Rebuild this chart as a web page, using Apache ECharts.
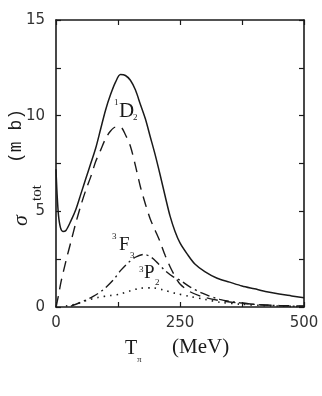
<!DOCTYPE html>
<html><head><meta charset="utf-8">
<script src="https://cdn.jsdelivr.net/npm/echarts@6/dist/echarts.min.js"></script>
<style>html,body{margin:0;padding:0;background:#fff}#c{width:322px;height:396px}</style>
</head><body><div id="c"></div>
<script>
// Total cross section (solid)
const totT = [0, 2, 5, 9, 14, 20, 30, 40, 50, 60, 70, 80, 90, 100, 110, 120, 130, 140, 150, 160, 170, 180, 190, 200, 210, 220, 230, 240, 250, 265, 280, 300, 325, 350, 375, 400, 425, 450, 475, 500];
const totV = [7.2, 6.0, 4.8, 4.15, 3.95, 4.0, 4.5, 5.1, 5.9, 6.7, 7.5, 8.3, 9.3, 10.3, 11.1, 11.75, 12.15, 12.1, 11.85, 11.35, 10.6, 9.85, 8.9, 7.95, 6.9, 5.8, 4.75, 3.95, 3.35, 2.75, 2.25, 1.85, 1.5, 1.3, 1.1, 0.95, 0.8, 0.68, 0.58, 0.48];
// 1D2 partial wave (dashed)
const d2T = [0, 5, 10, 20, 30, 40, 50, 60, 70, 80, 90, 100, 110, 120, 130, 140, 150, 160, 170, 180, 190, 200, 210, 220, 230, 240, 250, 270, 300, 340, 400, 450, 500];
const d2V = [0, 0.6, 1.3, 2.4, 3.4, 4.4, 5.3, 6.1, 6.8, 7.6, 8.2, 8.8, 9.2, 9.4, 9.4, 9.0, 8.4, 7.4, 6.3, 5.4, 4.6, 4.0, 3.4, 2.7, 2.1, 1.6, 1.2, 0.8, 0.5, 0.3, 0.14, 0.08, 0.05];
// 3F3 partial wave (dash-dot)
const f3T = [30, 55, 75, 95, 115, 130, 145, 160, 178, 192, 205, 220, 235, 250, 270, 295, 330, 370, 420, 500];
const f3V = [0.05, 0.3, 0.55, 0.9, 1.4, 1.9, 2.3, 2.6, 2.75, 2.6, 2.3, 1.9, 1.6, 1.4, 1.05, 0.72, 0.4, 0.22, 0.1, 0.03];
// 3P2 partial wave (dotted)
const p2T = [20, 40, 62, 85, 110, 130, 150, 170, 195, 215, 240, 270, 300, 330, 370, 420, 500];
const p2V = [0.05, 0.15, 0.35, 0.5, 0.6, 0.68, 0.85, 0.98, 1.0, 0.9, 0.72, 0.55, 0.4, 0.25, 0.15, 0.07, 0.02];

const xTickLabels = [0, 250, 500];
const yTickLabels = [0, 5, 10, 15];

const zip = (a, b) => a.map((t, i) => [t, b[i]]);
const ink = '#1a1a1a';
const tickFont = {fontFamily: 'DejaVu Sans', fontSize: 15, color: '#333'};
const serif = 'Liberation Serif';

const chart = echarts.init(document.getElementById('c'), null, {renderer: 'canvas'});
const lineBase = {type: 'line', smooth: 0.3, showSymbol: false, symbol: 'none', animation: false};

chart.setOption({
  backgroundColor: '#fff',
  animation: false,
  grid: {left: 56, right: 18, top: 20, bottom: 89},
  xAxis: [{
    type: 'value', min: 0, max: 500, interval: 125, position: 'bottom',
    axisLine: {show: true, onZero: false, lineStyle: {color: ink, width: 1.6}},
    axisTick: {show: true, inside: true, length: 5, lineStyle: {color: ink, width: 1.2}},
    splitLine: {show: false},
    axisLabel: Object.assign({margin: 9, formatter: v => xTickLabels.includes(v) ? String(v) : ''}, tickFont)
  }, {
    type: 'value', min: 0, max: 500, interval: 125, position: 'top',
    axisLine: {show: true, onZero: false, lineStyle: {color: ink, width: 1.6}},
    axisTick: {show: true, inside: true, length: 5, lineStyle: {color: ink, width: 1.2}},
    splitLine: {show: false}, axisLabel: {show: false}
  }],
  yAxis: [{
    type: 'value', min: 0, max: 15, interval: 2.5, position: 'left',
    axisLine: {show: true, onZero: false, lineStyle: {color: ink, width: 1.6}},
    axisTick: {show: true, inside: true, length: 5, lineStyle: {color: ink, width: 1.2}},
    splitLine: {show: false},
    axisLabel: Object.assign({margin: 11, formatter: v => yTickLabels.includes(v) ? String(v) : ''}, tickFont)
  }, {
    type: 'value', min: 0, max: 15, interval: 2.5, position: 'right',
    axisLine: {show: true, onZero: false, lineStyle: {color: ink, width: 1.6}},
    axisTick: {show: true, inside: true, length: 5, lineStyle: {color: ink, width: 1.2}},
    splitLine: {show: false}, axisLabel: {show: false}
  }],
  series: [
    Object.assign({}, lineBase, {name: 'total', data: zip(totT, totV), lineStyle: {color: ink, width: 1.5}}),
    Object.assign({}, lineBase, {name: '1D2', data: zip(d2T, d2V), lineStyle: {color: ink, width: 1.4, type: [11, 7]}}),
    Object.assign({}, lineBase, {name: '3F3', data: zip(f3T, f3V), lineStyle: {color: ink, width: 1.4, type: [10, 4, 2, 4]}}),
    Object.assign({}, lineBase, {name: '3P2', data: zip(p2T, p2V), lineStyle: {color: ink, width: 1.6, type: [1.5, 5]}})
  ],
  graphic: [
    // curve labels
    {type: 'text', left: 114, top: 98, style: {text: '1', font: '9px ' + serif, fill: ink}},
    {type: 'text', left: 119, top: 101, style: {text: 'D', font: '21px ' + serif, fill: ink}},
    {type: 'text', left: 133, top: 113, style: {text: '2', font: '9px ' + serif, fill: ink}},
    {type: 'text', left: 112, top: 232, style: {text: '3', font: '9px ' + serif, fill: ink}},
    {type: 'text', left: 119, top: 236, style: {text: 'F', font: '19px ' + serif, fill: ink}},
    {type: 'text', left: 130, top: 251, style: {text: '3', font: '9px ' + serif, fill: ink}},
    {type: 'text', left: 139, top: 265, style: {text: '3', font: '9px ' + serif, fill: ink}},
    {type: 'text', left: 144, top: 264, style: {text: 'P', font: '19px ' + serif, fill: ink}},
    {type: 'text', left: 155, top: 278, style: {text: '2', font: '9px ' + serif, fill: ink}},
    // x axis title
    {type: 'text', left: 125, top: 339, style: {text: 'T', font: '20px ' + serif, fill: ink}},
    {type: 'text', left: 137, top: 355, style: {text: 'π', font: '9px ' + serif, fill: ink}},
    {type: 'text', left: 172, top: 337, style: {text: '(MeV)', font: '21px ' + serif, fill: ink}},
    // y axis title (rotated)
    {type: 'group', x: 20, y: 165, rotation: Math.PI / 2, children: [
      {type: 'text', x: -61, y: -10, style: {text: 'σ', font: 'italic 22px ' + serif, fill: ink}},
      {type: 'text', x: -36, y: 10, style: {text: 'tot', font: '15px ' + serif, fill: ink}},
      {type: 'text', x: 2, y: -13, style: {text: '(m b)', font: '18px Liberation Mono', fill: ink}}
    ]}
  ]
});
</script>
</body></html>
